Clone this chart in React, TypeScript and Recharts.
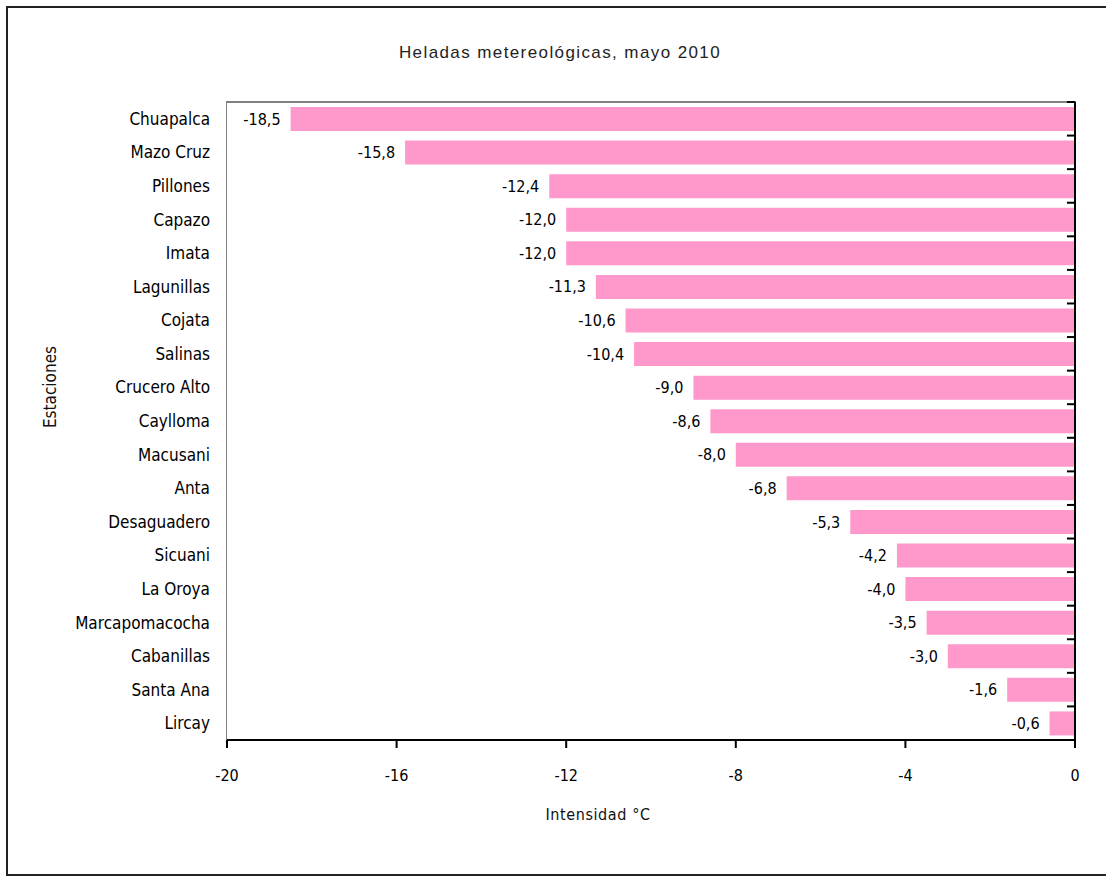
import React from "react";
import { BarChart, Bar, XAxis, YAxis, LabelList, ReferenceLine } from "recharts";

const stations = [
  "Chuapalca",
  "Mazo Cruz",
  "Pillones",
  "Capazo",
  "Imata",
  "Lagunillas",
  "Cojata",
  "Salinas",
  "Crucero Alto",
  "Caylloma",
  "Macusani",
  "Anta",
  "Desaguadero",
  "Sicuani",
  "La Oroya",
  "Marcapomacocha",
  "Cabanillas",
  "Santa Ana",
  "Lircay",
];

const intensity = [
  -18.5, -15.8, -12.4, -12.0, -12.0, -11.3, -10.6, -10.4, -9.0, -8.6, -8.0,
  -6.8, -5.3, -4.2, -4.0, -3.5, -3.0, -1.6, -0.6,
];

const xTicks = [-20, -16, -12, -8, -4, 0];

const FONT = '"Liberation Sans Narrow", "Arial Narrow", "DejaVu Sans Condensed", sans-serif';

const fmt = (v: number) => v.toFixed(1).replace(".", ",");

const ValueLabel = (props: any) => {
  const x = Number(props.x);
  const w = Number(props.width);
  const y = Number(props.y);
  const h = Number(props.height);
  const left = Math.min(x, x + w);
  return (
    <text
      x={left - 10}
      y={y + h / 2}
      dy="0.35em"
      textAnchor="end"
      fontSize={16}
      fontFamily={FONT}
      fill="#000"
    >
      {fmt(Number(props.value))}
    </text>
  );
};

export default function App() {
  const data = stations.map((name, i) => ({ name, value: intensity[i] }));

  return (
    <div style={{ position: "absolute", left: 0, top: 0, width: 1106, height: 877, background: "#fff", overflow: "hidden" }}>
      <div
        style={{
          position: "absolute",
          left: 6,
          top: 6,
          width: 1110,
          height: 866,
          borderLeft: "2px solid #222",
          borderTop: "2px solid #222",
          borderBottom: "2px solid #222",
        }}
      />
      {/* thin grey frame on the top and left of the plot area */}
      <div
        style={{
          position: "absolute",
          left: 226,
          top: 101,
          width: 850,
          height: 640,
          borderLeft: "1px solid #808080",
          borderTop: "2px solid #808080",
          boxSizing: "border-box",
        }}
      />
      <div
        style={{
          position: "absolute",
          left: 0,
          width: 1120,
          top: 43,
          textAlign: "center",
          fontFamily: '"Liberation Sans", Arial, sans-serif',
          fontSize: 17,
          letterSpacing: 1.4,
          color: "#222",
        }}
      >
        Heladas metereológicas, mayo 2010
      </div>
      <div
        style={{
          position: "absolute",
          left: 538,
          top: 805,
          width: 120,
          textAlign: "center",
          fontFamily: FONT,
          fontSize: 16,
          letterSpacing: 0.6,
          color: "#111",
        }}
      >
        Intensidad °C
      </div>
      <div
        style={{
          position: "absolute",
          left: 50,
          top: 387,
          transform: "translate(-50%, -50%) rotate(-90deg)",
          fontFamily: FONT,
          fontSize: 17,
          color: "#111",
          whiteSpace: "nowrap",
        }}
      >
        Estaciones
      </div>
      <div style={{ position: "absolute", left: 0, top: 0 }}>
        <BarChart
          width={1106}
          height={877}
          data={data}
          layout="vertical"
          margin={{ top: 102, right: 31, left: 77, bottom: 107 }}
        >
          <XAxis
            type="number"
            domain={[-20, 0]}
            ticks={xTicks}
            allowDataOverflow
            height={30}
            axisLine={{ stroke: "#000", strokeWidth: 2 }}
            tickLine={{ stroke: "#000", strokeWidth: 2 }}
            tickSize={8}
            tickMargin={22}
            tick={{ fontSize: 16, fontFamily: FONT, fill: "#000" }}
          />
          <YAxis
            type="category"
            dataKey="name"
            width={150}
            axisLine={false}
            tickLine={false}
            tickSize={0}
            tickMargin={17}
            interval={0}
            tick={{ fontSize: 17, fontFamily: FONT, fill: "#000" }}
          />
          <Bar dataKey="value" fill="#FF99CC" barSize={24} isAnimationActive={false}>
            <LabelList dataKey="value" content={ValueLabel} />
          </Bar>
          {/* zero axis with tick marks between categories */}
          <ReferenceLine x={0} stroke="#000" strokeWidth={2} />
          {stations.map((s) => (
            <ReferenceLine
              key={s}
              position="start"
              segment={[
                { x: -0.19, y: s },
                { x: 0, y: s },
              ]}
              stroke="#000"
              strokeWidth={2}
              ifOverflow="visible"
            />
          ))}
        </BarChart>
      </div>
    </div>
  );
}
